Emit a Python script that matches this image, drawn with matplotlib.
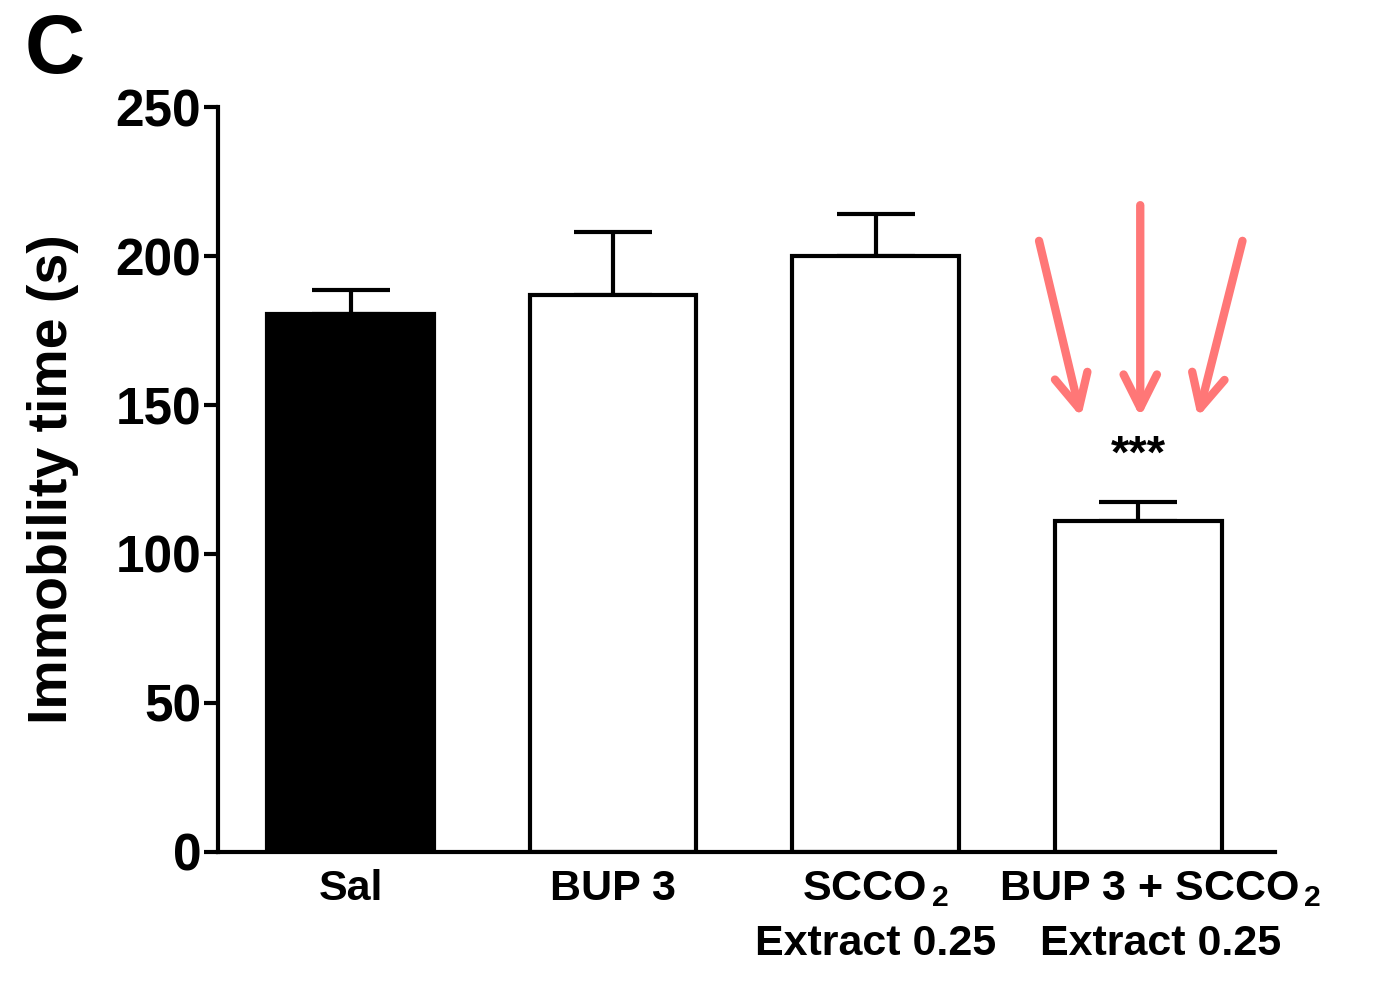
import matplotlib
matplotlib.use("Agg")
import matplotlib.pyplot as plt
import matplotlib.transforms as mtransforms
import numpy as np

plt.rcParams['font.family'] = ['Liberation Sans', 'DejaVu Sans']
plt.rcParams['font.weight'] = 'bold'
plt.rcParams['mathtext.fontset'] = 'custom'
plt.rcParams['mathtext.rm'] = 'Liberation Sans:bold'
plt.rcParams['mathtext.it'] = 'Liberation Sans:bold'
plt.rcParams['mathtext.bf'] = 'Liberation Sans:bold'
plt.rcParams['mathtext.default'] = 'rm'

# 数据
groups = ["Sal", "BUP 3", "SCCO$_{\\,2}$\nExtract 0.25", "BUP 3 + SCCO$_{\\,2}$\nExtract 0.25"]
means = [180.5, 187, 200, 111]
sems = [8, 21, 14, 6.5]
colors = ["black", "white", "white", "white"]

# 箭头 (起点, 终点)
arrow_starts = [(2.62, 206), (3.008, 218), (3.40, 206)]
arrow_ends = [(2.785, 145), (3.008, 145), (3.225, 145)]

fig = plt.figure(figsize=(13.84, 9.83), dpi=100)
ax = fig.add_axes([0.1575, 0.1333, 0.7635, 0.7578])

x = np.arange(len(groups))
ax.bar(x, means, width=0.635, color=colors, edgecolor="black", linewidth=3, zorder=2)
ax.errorbar(x, means, yerr=[np.zeros(len(sems)), sems], fmt="none", ecolor="black",
            elinewidth=3, capsize=28, capthick=3, zorder=1)

ax.set_xlim(-0.505, 3.52)
ax.set_ylim(0, 250)
ax.set_yticks([0, 50, 100, 150, 200, 250])
ax.set_xticks(x)
ax.set_xticklabels(groups, fontsize=31, fontweight="bold", linespacing=1.5)
ax.tick_params(axis="y", labelsize=37, width=3, length=10, pad=2)
ax.tick_params(axis="x", length=0, pad=12)
for lab in ax.get_yticklabels():
    lab.set_fontweight("bold")
# 最后一个标签略向右
xl = ax.get_xticklabels()
xl[3].set_transform(xl[3].get_transform() + mtransforms.ScaledTranslation(0.22, 0, fig.dpi_scale_trans))

for s in ["top", "right"]:
    ax.spines[s].set_visible(False)
for s in ["left", "bottom"]:
    ax.spines[s].set_linewidth(3)

ax.set_ylabel("Immobility time (s)", fontsize=40, fontweight="bold", labelpad=26)

ax.text(3, 133, "***", ha="center", va="center", fontsize=34, fontweight="bold")

for st, en in zip(arrow_starts, arrow_ends):
    ax.annotate("", xy=en, xytext=st,
                arrowprops=dict(arrowstyle="->", color="#ff7777", lw=6,
                                mutation_scale=60, capstyle="round", joinstyle="round"))

fig.text(0.018, 0.948, "C", fontsize=60, fontweight="bold", va="center")

fig.savefig("out.png", dpi=100)
